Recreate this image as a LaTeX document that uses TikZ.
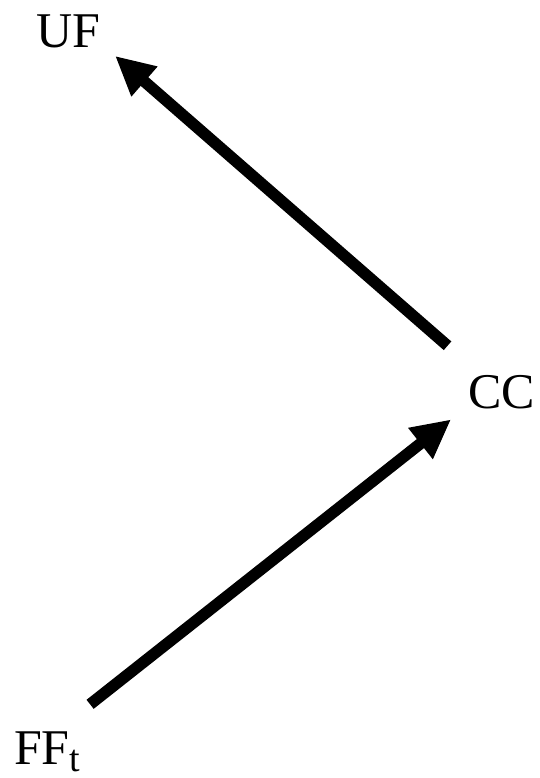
\documentclass[tikz,border=0pt]{standalone}
\usepackage{fontspec}
\setmainfont{Liberation Serif}
\usetikzlibrary{arrows.meta}
\tikzset{
  lbl/.style={inner sep=0pt, outer sep=0pt, anchor=base west, font=\fontsize{50}{56}\selectfont},
  arr/.style={line width=11.5pt, -{Triangle[length=39pt,width=37pt]}}
}
\begin{document}
\begin{tikzpicture}[x=1pt,y=1pt]
\useasboundingbox (0,0) rectangle (540,778);
\node[lbl] (UF) at (36.5,730) {UF};
\node[lbl] (CC) at (468,369) {CC};
\node[lbl] (FF) at (14,13) {FF\raisebox{-7pt}{\fontsize{38}{42}\selectfont t}};
\draw[arr, shorten <=71.4pt, shorten >=61.9pt] (CC.center) -- (UF.north);
\draw[arr, shorten <=54.8pt, shorten >=64.1pt] ([yshift=-6pt]FF.north) -- ([yshift=13pt]CC.center);
\end{tikzpicture}
\end{document}
